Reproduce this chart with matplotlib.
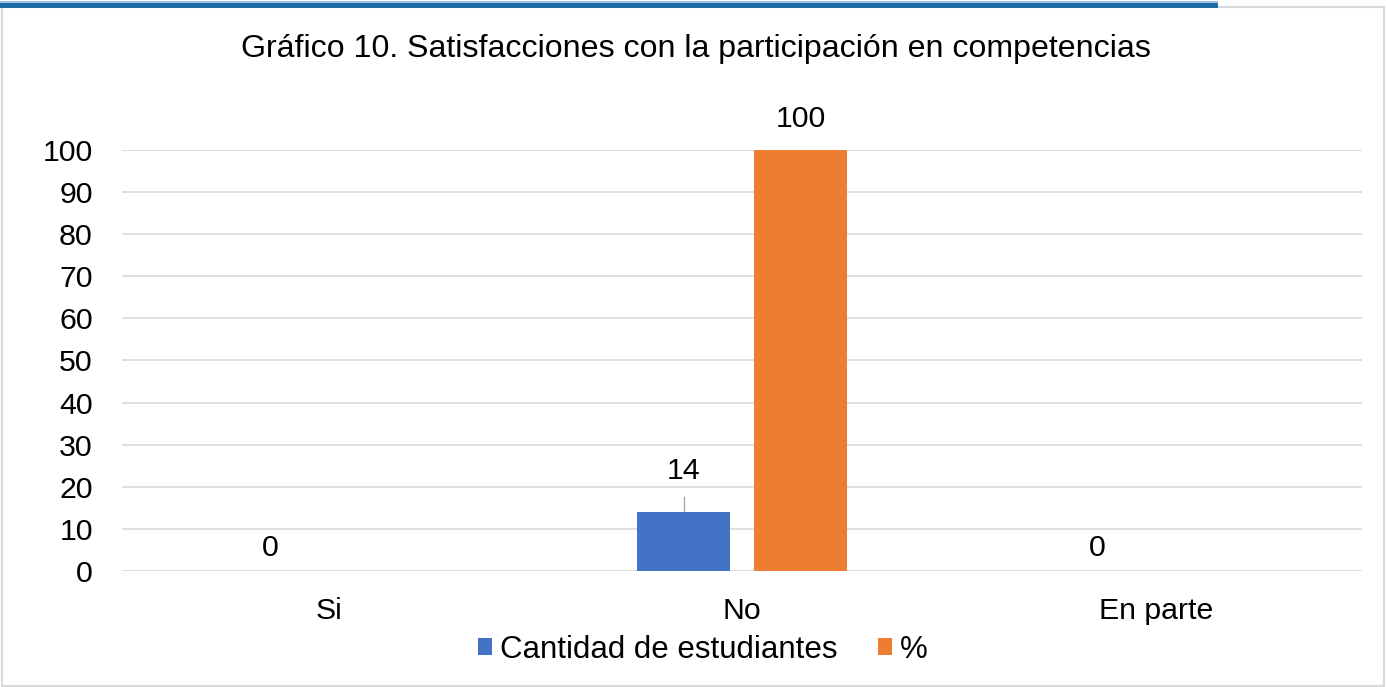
import matplotlib
matplotlib.use("Agg")
import matplotlib.pyplot as plt
from matplotlib.patches import Rectangle
import numpy as np

plt.rcParams["font.family"] = ["Liberation Sans", "DejaVu Sans"]

categories = ["Si", "No", "En parte"]
cantidad = [0, 14, 0]
porcentaje = [0, 100, 0]
series_names = ["Cantidad de estudiantes", "%"]
BLUE = "#4472c4"
ORANGE = "#ed7d31"
GRID = "#d9d9d9"
FS = 21.8

fig = plt.figure(figsize=(13.86, 6.87), dpi=100)
ax = fig.add_axes([0.088, 0.1689, 0.895, 0.6128])

x = np.arange(len(categories))
w = 0.225
off = 0.1417
b1 = ax.bar(x - off, cantidad, w, color=BLUE, label=series_names[0], zorder=3)
b2 = ax.bar(x + off, porcentaje, w, color=ORANGE, label=series_names[1], zorder=3)

ax.set_xlim(-0.5, 2.5)
ax.set_ylim(0, 100)
ax.set_yticks(range(0, 101, 10))
ax.set_xticks(x)
ax.set_xticklabels(categories)
ax.tick_params(axis="both", length=0, labelsize=FS)
ax.tick_params(axis="y", pad=21)
ax.tick_params(axis="x", pad=18.5)
ax.grid(axis="y", color=GRID, lw=1.2, zorder=0)
for s in ax.spines.values():
    s.set_visible(False)

# etiquetas de datos
for xi, v in zip(x, cantidad):
    if v == 0:
        ax.text(xi - off, 3.6, "0", ha="center", va="baseline", fontsize=FS)
    else:
        ax.text(xi - off, v + 7.9, str(v), ha="center", va="baseline", fontsize=FS)
        ax.plot([xi - off, xi - off], [v + 0.2, v + 3.6], color="#a6a6a6", lw=1, zorder=4)
for xi, v in zip(x, porcentaje):
    if v != 0:
        ax.text(xi + off, v + 5.5, str(v), ha="center", va="baseline", fontsize=FS,
                clip_on=False)

fig.text(0.502, 1 - 57 / 687, "Gráfico 10. Satisfacciones con la participación en competencias",
         ha="center", va="baseline", fontsize=23.1)

leg = fig.legend(handles=[b1, b2], loc="center", bbox_to_anchor=(0.507, 1 - 650 / 687),
                 ncol=2, frameon=False, fontsize=22.5, handlelength=0.45, handleheight=0.45,
                 handletextpad=0.26, columnspacing=1.3, borderpad=0)

# borde del gráfico y franja superior
fig.patches.append(Rectangle((2 / 1386, 0.001), 1 - 4 / 1386, 1 - 8 / 687, transform=fig.transFigure,
                             fill=False, edgecolor=GRID, lw=1.5))
fig.patches.append(Rectangle((0, 1 - 8 / 687), 1218 / 1386, 5 / 687, transform=fig.transFigure,
                             facecolor="#1f6aa5", edgecolor="none"))
fig.patches.append(Rectangle((0, 1 - 3 / 687), 1218 / 1386, 2 / 687, transform=fig.transFigure,
                             facecolor="#9dc3e6", edgecolor="none"))

fig.savefig("out.png", dpi=100)
